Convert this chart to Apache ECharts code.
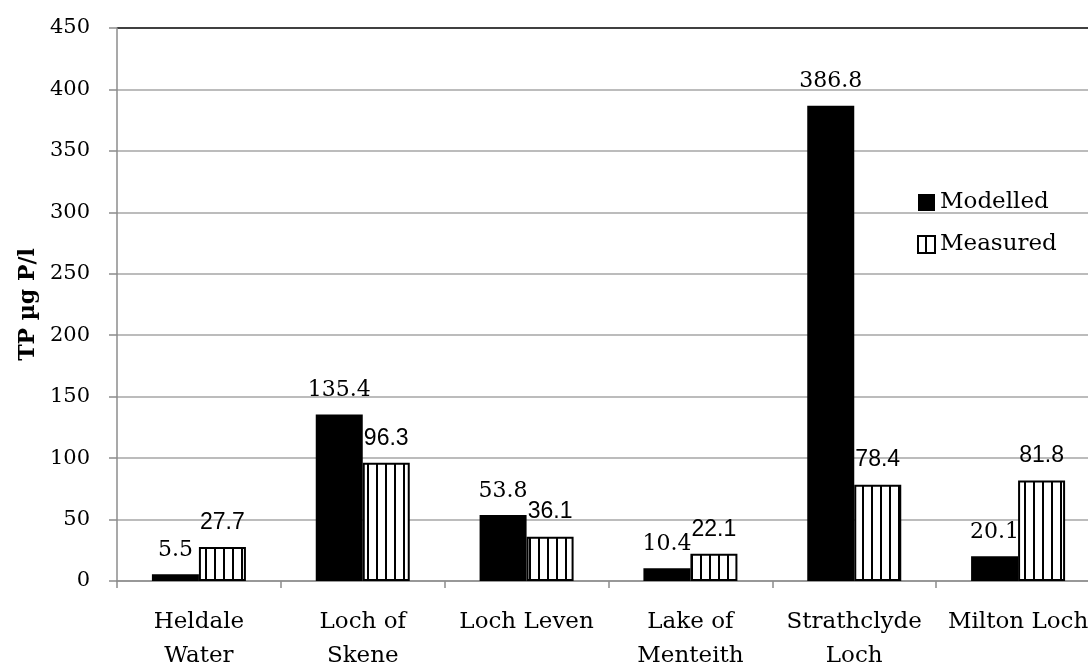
<!DOCTYPE html>
<html>
<head>
<meta charset="utf-8">
<script src="https://cdn.jsdelivr.net/npm/echarts@6/dist/echarts.min.js"></script>
<style>
  html, body { margin: 0; padding: 0; background: #fff; }
  #main { width: 1088px; height: 668px; }
</style>
</head>
<body>
<div id="main"></div>
<script>
const lakes = ["Heldale\nWater", "Loch of\nSkene", "Loch Leven", "Lake of\nMenteith", "Strathclyde\nLoch", "Milton Loch"]
const modelled = [5.5, 135.4, 53.8, 10.4, 386.8, 20.1]
const measured = [27.7, 96.3, 36.1, 22.1, 78.4, 81.8]
const yTicks = [0, 50, 100, 150, 200, 250, 300, 350, 400, 450]

// vertical stripe fill for the measured bars
const stripe = document.createElement("canvas")
stripe.width = 9
stripe.height = 10
const ctx = stripe.getContext("2d")
ctx.fillStyle = "#fff"
ctx.fillRect(0, 0, 9, 10)
ctx.fillStyle = "#000"
ctx.fillRect(7, 0, 2, 10)

const serif = "DejaVu Serif"
const gridColors = yTicks.map((t, i) => (i === yTicks.length - 1 ? "#000" : "#a6a6a6"))

const chart = echarts.init(document.getElementById("main"))

const option = {
  backgroundColor: "#fff",
  animation: false,
  grid: { left: 117, right: -12, top: 28, bottom: 87, containLabel: false, outerBoundsMode: "none" },
  legend: {
    orient: "vertical",
    left: 912,
    top: 186,
    itemWidth: 17,
    itemHeight: 17,
    itemGap: 19,
    icon: "rect",
    textStyle: { fontFamily: serif, fontSize: 23, color: "#000", padding: 0 },
    data: ["Modelled", "Measured"],
  },
  xAxis: {
    type: "category",
    data: lakes,
    axisLine: { lineStyle: { color: "#8c8c8c", width: 1.5 } },
    axisTick: { show: true, length: 7, lineStyle: { color: "#8c8c8c", width: 1.5 } },
    axisLabel: {
      interval: 0,
      margin: 24,
      fontFamily: serif,
      fontSize: 23,
      lineHeight: 34,
      color: "#000",
    },
  },
  yAxis: {
    type: "value",
    min: 0,
    max: 450,
    interval: 50,
    name: "TP µg P/l",
    nameLocation: "middle",
    nameGap: 75,
    nameRotate: 90,
    nameTextStyle: { fontFamily: serif, fontSize: 22, fontWeight: "bold", color: "#000" },
    axisLine: { show: true, lineStyle: { color: "#8c8c8c", width: 1.5 } },
    axisTick: { show: true, length: 8, lineStyle: { color: "#8c8c8c", width: 1.5 } },
    axisLabel: { margin: 27, fontFamily: serif, fontSize: 21, color: "#000" },
    splitLine: { show: true, lineStyle: { color: gridColors, width: 1.5 } },
  },
  series: [
    {
      name: "Modelled",
      type: "bar",
      data: modelled,
      barWidth: 47,
      barGap: "0%",
      itemStyle: { color: "#000" },
      label: {
        show: true,
        position: "top",
        distance: 13,
        fontFamily: serif,
        fontSize: 22,
        color: "#000",
      },
    },
    {
      name: "Measured",
      type: "bar",
      data: measured,
      barWidth: 47,
      barGap: "0%",
      itemStyle: {
        color: { image: stripe, repeat: "repeat" },
        borderColor: "#000",
        borderWidth: 2,
      },
      label: {
        show: true,
        position: "top",
        distance: 13,
        fontFamily: "Liberation Sans",
        fontSize: 23,
        color: "#000",
      },
    },
  ],
}

option && chart.setOption(option)
</script>
</body>
</html>
